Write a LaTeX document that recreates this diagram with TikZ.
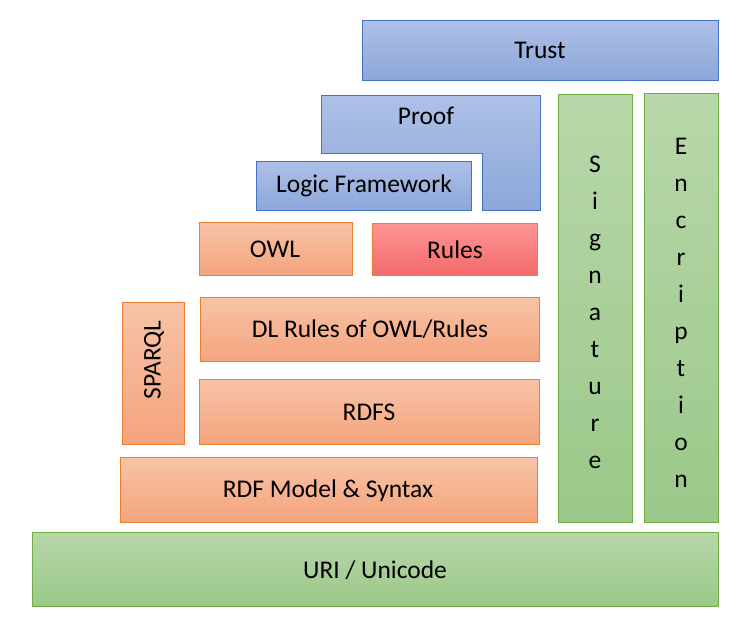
\documentclass[tikz,border=0pt]{standalone}
\usepackage{fontspec}
\setmainfont{Carlito}
\definecolor{bluetop}{HTML}{AEC0E6}
\definecolor{bluebot}{HTML}{8CA7DA}
\definecolor{blueline}{HTML}{4472C4}
\definecolor{orangetop}{HTML}{F8C3A7}
\definecolor{orangebot}{HTML}{F4A47D}
\definecolor{orangeline}{HTML}{ED7D31}
\definecolor{redtop}{HTML}{FF9696}
\definecolor{redbot}{HTML}{F36A6A}
\definecolor{greentop}{HTML}{B8D7AA}
\definecolor{greenbot}{HTML}{9BC889}
\definecolor{greenline}{HTML}{70AD47}

\tikzset{
    bluebox/.style={top color=bluetop, bottom color=bluebot, draw=blueline, line width=0.9pt},
    orangebox/.style={top color=orangetop, bottom color=orangebot, draw=orangeline, line width=0.9pt},
    redbox/.style={top color=redtop, bottom color=redbot, draw=orangeline, line width=0.9pt},
    greenbox/.style={top color=greentop, bottom color=greenbot, draw=greenline, line width=0.9pt},
    layertext/.style={font=\fontsize{25.5}{30}\selectfont, text=black, inner sep=0pt},
    columntext/.style={font=\fontsize{25.5}{37}\selectfont, text=black, inner sep=0pt, align=center},
}

\begin{document}
\begin{tikzpicture}[x=1pt, y=-1pt]
\useasboundingbox (0,0) rectangle (749,633);
% top layers
\shade [bluebox] (362,20) rectangle (718,80);
\node [layertext] (trust) at (540,50) {Trust};
\shade [bluebox] (321,95) -- (540,95) -- (540,210) -- (482,210) -- (482,153) -- (321,153) -- cycle;
\node [layertext] (proof) at (426,116) {Proof};
\shade [bluebox] (256,161) rectangle (471,210);
\node [layertext] (logic) at (364,186) {Logic Framework};
% ontology and rules
\shade [orangebox] (199,222) rectangle (352,275);
\node [layertext] (owl) at (275,249) {OWL};
\shade [redbox] (372,223) rectangle (537,275);
\node [layertext] (rules) at (455,250) {Rules};
\shade [orangebox] (200,297) rectangle (539,361);
\node [layertext] (dlrules) at (370,329) {DL Rules of OWL/Rules};
\shade [orangebox] (122,302) rectangle (184,444);
\node [layertext, rotate=90] (sparql) at (154,360) {SPARQL};
\shade [orangebox] (199,379) rectangle (539,444);
\node [layertext] (rdfs) at (369,412) {RDFS};
\shade [orangebox] (120,457) rectangle (537,522);
\node [layertext] (rdf) at (328,491) {RDF Model \& Syntax};
% side columns
\shade [greenbox] (558,94) rectangle (632,522);
\node [columntext] (signature) at (595,312) {S\\i\\g\\n\\a\\t\\u\\r\\e};
\shade [greenbox] (644,93) rectangle (718,522);
\node [columntext] (encription) at (681,313) {E\\n\\c\\r\\i\\p\\t\\i\\o\\n};
% base layer
\shade [greenbox] (32,532) rectangle (718,606);
\node [layertext] (uri) at (375,570) {URI / Unicode};
\end{tikzpicture}
\end{document}
